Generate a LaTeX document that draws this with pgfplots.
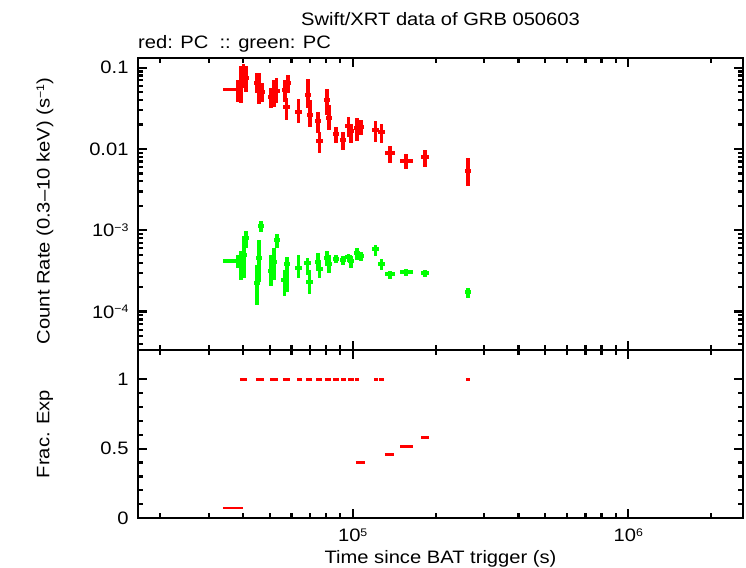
\documentclass[border=0pt]{standalone}
\usepackage{pgfplots}
\usepackage{pgfplotstable}
\pgfplotsset{compat=1.18}
\usepackage{fontspec}
\setmainfont[FakeStretch=1.12]{Liberation Sans}
\definecolor{gpred}{RGB}{255,0,0}
\definecolor{gpgreen}{RGB}{0,255,0}

\pgfplotstableread{
x y ylo yhi xm xp
38120 0.05423 0.03785 0.07059 0.1128 0.0375
39320 0.06126 0.03679 0.1049 0.028 0.028
40140 0.08605 0.05629 0.1110 0.028 0.028
41000 0.07469 0.05026 0.1049 0.028 0.028
44940 0.06483 0.04885 0.08605 0.028 0.028
45700 0.05629 0.03577 0.08605 0.028 0.028
46860 0.05026 0.03785 0.06483 0.028 0.028
50520 0.04361 0.03193 0.05629 0.028 0.028
51800 0.04885 0.03284 0.07059 0.028 0.028
52890 0.05168 0.03679 0.07469 0.028 0.028
56800 0.05317 0.03785 0.07059 0.028 0.028
58240 0.06483 0.04885 0.08132 0.028 0.028
57510 0.03284 0.02273 0.04239 0.028 0.028
63580 0.02851 0.02088 0.04121 0.028 0.028
68840 0.04615 0.03193 0.07261 0.028 0.028
69980 0.02619 0.01865 0.04005 0.028 0.028
74820 0.02211 0.01573 0.02851 0.028 0.028
75770 0.01254 0.008929 0.01618 0.028 0.028
80660 0.04005 0.02619 0.0547 0.028 0.028
82030 0.02406 0.01713 0.03477 0.028 0.028
86970 0.01529 0.01185 0.01865 0.028 0.028
92210 0.0129 0.009721 0.01618 0.028 0.028
96560 0.01918 0.01405 0.02475 0.028 0.028
98580 0.01665 0.01185 0.0203 0.028 0.028
103660 0.01813 0.01254 0.02406 0.028 0.028
107180 0.01865 0.01487 0.02273 0.028 0.028
121000 0.01713 0.0122 0.02211 0.028 0.028
127200 0.01618 0.01185 0.0203 0.028 0.028
136570 0.008929 0.006728 0.01088 0.041 0.0427
156120 0.007119 0.005675 0.008681 0.0488 0.0601
183000 0.007973 0.006006 0.009721 0.0328 0.0339
262100 0.005364 0.003507 0.007749 0.028 0.028
}\redtab

\pgfplotstableread{
x y ylo yhi xm xp
38120 4.193e-4 3.439e-4 4.968e-4 0.1128 0.0375
39320 4.075e-4 2.447e-4 5.564e-4 0.028 0.028
40310 4.968e-4 2.589e-4 8.509e-4 0.028 0.028
41000 8.04e-4 6.057e-4 9.804e-4 0.028 0.028
44940 2.248e-4 1.206e-4 3.744e-4 0.028 0.028
45700 4.563e-4 2.312e-4 7.597e-4 0.028 0.028
46480 1.13e-3 9.53e-4 1.301e-3 0.028 0.028
50520 3.157e-4 2.065e-4 4.968e-4 0.028 0.028
51800 4.075e-4 2.447e-4 6.057e-4 0.028 0.028
53110 7.597e-4 6.057e-4 9.006e-4 0.028 0.028
56560 2.447e-4 1.555e-4 3.248e-4 0.028 0.028
57750 3.851e-4 1.741e-4 4.694e-4 0.028 0.028
63580 3.439e-4 2.589e-4 4.968e-4 0.028 0.028
68540 3.962e-4 2.819e-4 4.563e-4 0.028 0.028
69700 2.312e-4 1.646e-4 3.248e-4 0.028 0.028
74820 4.075e-4 3.248e-4 5.257e-4 0.028 0.028
75770 3.342e-4 2.589e-4 4.311e-4 0.028 0.028
80660 4.563e-4 3.638e-4 5.564e-4 0.028 0.028
82030 3.851e-4 2.983e-4 4.968e-4 0.028 0.028
86970 4.436e-4 3.962e-4 4.968e-4 0.028 0.028
92210 4.311e-4 3.744e-4 4.829e-4 0.028 0.028
96560 4.694e-4 4.075e-4 5.11e-4 0.028 0.028
98580 4.193e-4 3.439e-4 4.829e-4 0.028 0.028
103660 5.257e-4 4.311e-4 6.057e-4 0.028 0.028
107180 4.829e-4 4.193e-4 5.408e-4 0.028 0.028
121000 5.888e-4 4.829e-4 6.594e-4 0.028 0.028
127200 3.851e-4 3.248e-4 4.436e-4 0.028 0.028
136570 2.9e-4 2.518e-4 3.157e-4 0.041 0.0427
156120 3.069e-4 2.74e-4 3.342e-4 0.0488 0.0601
183000 2.983e-4 2.663e-4 3.248e-4 0.0328 0.0339
262100 1.741e-4 1.47e-4 1.951e-4 0.028 0.028
}\greentab

\pgfplotstableread{
xlo xhi y
33820 39870 0.072
38980 41340 1
44570 47530 1
50090 53560 1
55850 59210 1
62800 65460 1
67690 71160 1
73600 77380 1
79340 83410 1
84830 89190 1
90680 94560 1
96140 101090 1
101930 105410 1
119500 123500 1
124600 129900 1
257800 266500 1
102800 110800 0.40
130970 141600 0.456
148500 165510 0.514
177000 189200 0.58
}\fractab

\newcommand{\labfont}{\fontsize{18bp}{22bp}\selectfont}
\newcommand{\sups}[1]{\raisebox{5.6bp}{\fontsize{11bp}{11bp}\selectfont #1}}

\begin{document}
\begin{tikzpicture}
\path[use as bounding box] (-138bp,-218bp) rectangle (608bp,350bp);

\begin{axis}[name=top, at={(0,0)}, anchor=south west,
  scale only axis, width=605bp, height=292bp,
  xmode=log, ymode=log,
  xmin=16630, xmax=2.61e6, ymin=3.37e-5, ymax=0.1316,
  xtick={1e5,1e6}, xticklabels={},
  minor xtick={2e4,3e4,4e4,5e4,6e4,7e4,8e4,9e4,2e5,3e5,4e5,5e5,6e5,7e5,8e5,9e5,2e6},
  ytick={1e-4,1e-3,0.01,0.1},
  yticklabels={10\sups{−4},10\sups{−3},0.01,0.1},
  minor ytick={4e-5,5e-5,6e-5,7e-5,8e-5,9e-5,2e-4,3e-4,4e-4,5e-4,6e-4,7e-4,8e-4,9e-4,2e-3,3e-3,4e-3,5e-3,6e-3,7e-3,8e-3,9e-3,0.02,0.03,0.04,0.05,0.06,0.07,0.08,0.09},
  tick align=inside, major tick length=9bp, minor tick length=5bp,
  axis line style={line width=2.6bp},
  every tick/.append style={black, line width=2.2bp},
  tick label style={font=\labfont},
  label style={font=\labfont},
  yticklabel style={xshift=-6bp},
  clip=false,
  ylabel={Count Rate (0.3--10 keV) (s\sups{−1})},
  ylabel style={at={(axis description cs:-0.1537,0.476)}, anchor=center},
]
\addplot[draw=none, mark=none,
  error bars/x dir=both, error bars/x explicit relative,
  error bars/y dir=both, error bars/y explicit,
  error bars/error mark=none,
  error bars/error bar style={draw=gpred, line width=3.2bp, solid}]
  table[x=x, y=y,
  x error plus=xp, x error minus=xm,
  y error plus expr=\thisrow{yhi}-\thisrow{y},
  y error minus expr=\thisrow{y}-\thisrow{ylo}] {\redtab};
\addplot[draw=none, mark=none,
  error bars/x dir=both, error bars/x explicit relative,
  error bars/y dir=both, error bars/y explicit,
  error bars/error mark=none,
  error bars/error bar style={draw=gpgreen, line width=3.2bp, solid}]
  table[x=x, y=y,
  x error plus=xp, x error minus=xm,
  y error plus expr=\thisrow{yhi}-\thisrow{y},
  y error minus expr=\thisrow{y}-\thisrow{ylo}] {\greentab};
\node[font=\labfont, anchor=center] at (rel axis cs:0.5,1) [yshift=39bp] {Swift/XRT data of GRB 050603};
\node[font=\labfont, anchor=west, inner sep=0pt] at (rel axis cs:0,1) [yshift=14bp] {red: PC\ \ :: green: PC};
\end{axis}

\begin{axis}[name=bot, at={(top.south west)}, anchor=north west,
  scale only axis, width=605bp, height=168bp,
  xmode=log,
  xmin=16630, xmax=2.61e6, ymin=0, ymax=1.212,
  xtick={1e5,1e6},
  xticklabels={10\sups{5},10\sups{6}},
  minor xtick={2e4,3e4,4e4,5e4,6e4,7e4,8e4,9e4,2e5,3e5,4e5,5e5,6e5,7e5,8e5,9e5,2e6},
  ytick={0,0.5,1},
  yticklabels={0,0.5,1},
  minor y tick num=4,
  tick align=inside, major tick length=9bp, minor tick length=5bp,
  axis line style={line width=2.6bp},
  every tick/.append style={black, line width=2.2bp},
  tick label style={font=\labfont},
  label style={font=\labfont},
  yticklabel style={xshift=-6bp},
  xticklabel shift=7bp,
  clip=false,
  xlabel={Time since BAT trigger (s)},
  xlabel style={at={(axis description cs:0.5,-0.245)}, anchor=center},
  ylabel={Frac. Exp},
  ylabel style={at={(axis description cs:-0.1537,0.5)}, anchor=center},
]
\addplot[draw=none, mark=none,
  error bars/x dir=plus, error bars/x explicit,
  error bars/error mark=none,
  error bars/error bar style={draw=gpred, line width=2.8bp, solid}]
  table[x=xlo, y=y, x error expr=\thisrow{xhi}-\thisrow{xlo}] {\fractab};
\end{axis}
\end{tikzpicture}
\end{document}
